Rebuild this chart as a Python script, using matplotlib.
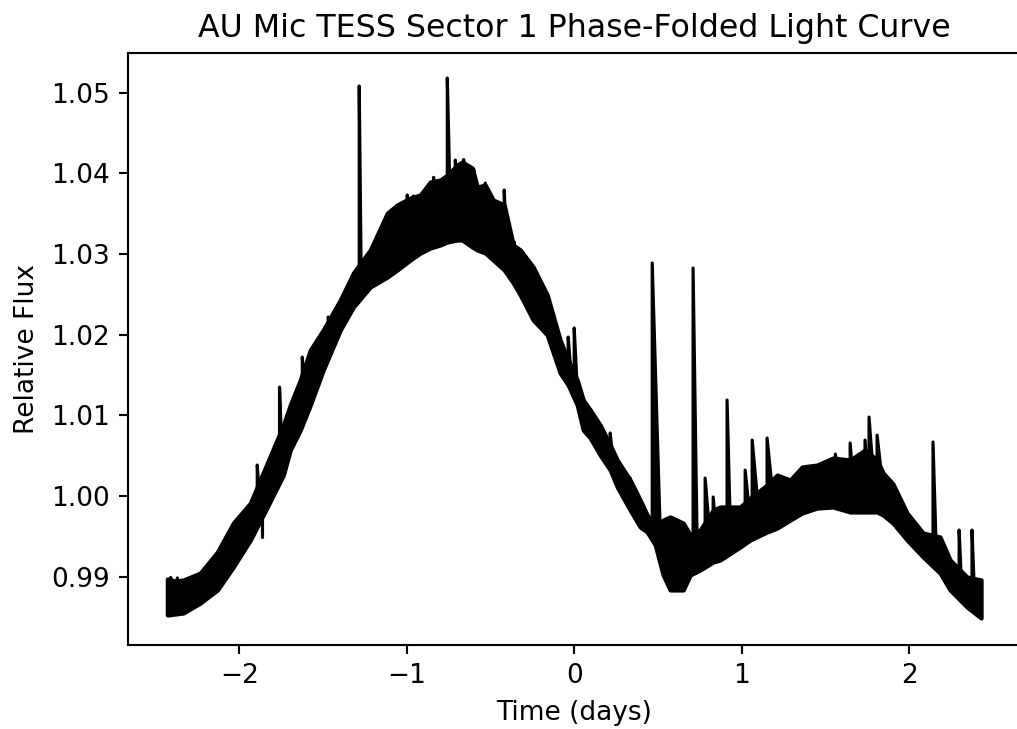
import numpy as np
import matplotlib
matplotlib.use("Agg")
import matplotlib.pyplot as plt

# ---- data (phase-folded light curve band) ----
band_time = [-2.430, -2.382, -2.334, -2.233, -2.131, -2.036, -1.934, -1.833,
             -1.737, -1.696, -1.636, -1.576, -1.499, -1.397, -1.319, -1.218,
             -1.116, -1.057, -0.979, -0.919, -0.860, -0.800, -0.758, -0.699,
             -0.669, -0.609, -0.579, -0.531, -0.484, -0.418, -0.364, -0.322,
             -0.245, -0.161, -0.084, -0.036, 0.018, 0.054, 0.096, 0.155,
             0.215, 0.257, 0.334, 0.394, 0.436, 0.484, 0.531, 0.573, 0.651,
             0.693, 0.752, 0.830, 0.872, 0.991, 1.051, 1.152, 1.212, 1.290,
             1.361, 1.451, 1.546, 1.648, 1.737, 1.809, 1.845, 1.904, 1.988,
             2.084, 2.185, 2.245, 2.346, 2.430]
band_upper = [0.98971, 0.98946, 0.98959, 0.99045, 0.99306, 0.99665, 0.99913, 1.00409,
              1.00880, 1.01128, 1.01438, 1.01810, 1.02058, 1.02430, 1.02765, 1.03050,
              1.03508, 1.03608, 1.03694, 1.03732, 1.03893, 1.03917, 1.03979, 1.04103,
              1.04141, 1.04066, 1.03831, 1.03855, 1.03670, 1.03608, 1.03112, 1.03050,
              1.02839, 1.02492, 1.01934, 1.01686, 1.01438, 1.01190, 1.01066, 1.00880,
              1.00632, 1.00446, 1.00198, 0.99950, 0.99764, 0.99640, 0.99702, 0.99740, 0.99665,
              0.99517, 0.99578, 0.99826, 0.99864, 0.99864, 0.99975, 1.00136, 1.00260, 1.00198,
              1.00360, 1.00384, 1.00471, 1.00446, 1.00570, 1.00446, 1.00285, 1.00150, 0.99789,
              0.99541, 0.99492, 0.99207, 0.98996, 0.98959]
band_lower = [0.98525, 0.98537, 0.98550, 0.98674, 0.98835, 0.99120, 0.99455, 0.99864,
              1.00260, 1.00570, 1.00818, 1.01128, 1.01562, 1.02058, 1.02343, 1.02591,
              1.02715, 1.02802, 1.02926, 1.03012, 1.03074, 1.03112, 1.03149, 1.03174,
              1.03174, 1.03087, 1.03050, 1.03012, 1.02926, 1.02802, 1.02641, 1.02492,
              1.02182, 1.01996, 1.01525, 1.01376, 1.01128, 1.00818, 1.00719, 1.00508,
              1.00322, 1.00112, 0.99826, 0.99616, 0.99554, 0.99393, 0.99021, 0.98835, 0.98835,
              0.99021, 0.99083, 0.99182, 0.99207, 0.99368, 0.99455, 0.99554, 0.99603, 0.99702,
              0.99789, 0.99851, 0.99864, 0.99802, 0.99802, 0.99802, 0.99764, 0.99665, 0.99455,
              0.99244, 0.99045, 0.98835, 0.98624, 0.98488]

# flares: start time, peak flux, decay length (days)
flare_time = [-2.410, -2.370, -1.893, -1.760, -1.624, -1.469, -1.284, -1.150,
              -0.997, -0.961, -0.896, -0.840, -0.758, -0.710, -0.660, -0.600,
              -0.531, -0.490, -0.418, -0.358, -0.036, 0.000, 0.215, 0.334,
              0.466, 0.710, 0.782, 0.830, 0.913, 1.021, 1.063, 1.152, 1.560,
              1.648, 1.737, 1.761, 1.809, 2.143, 2.299, 2.376]
flare_peak = [0.98990, 0.98985, 1.00384, 1.01350, 1.01723, 1.02219, 1.05083, 1.03300,
              1.03732, 1.03719, 1.03670, 1.03950, 1.05182, 1.04165, 1.04170, 1.04050,
              1.03880, 1.03670, 1.03793, 1.03149, 1.01971, 1.02083, 1.00781, 1.00223,
              1.02888, 1.02827, 1.00223, 0.99988, 1.01190, 1.00322, 1.00694, 1.00719, 1.00520,
              1.00657, 1.00694, 1.00979, 1.00756, 1.00669, 0.99578, 0.99578]
flare_decay = [0.008, 0.008, 0.015, 0.015, 0.015, 0.015, 0.012, 0.015,
               0.010, 0.010, 0.010, 0.012, 0.018, 0.015, 0.012, 0.012,
               0.015, 0.015, 0.015, 0.015, 0.020, 0.020, 0.020, 0.020,
               0.050, 0.025, 0.030, 0.020, 0.020, 0.030, 0.040, 0.040, 0.020,
               0.020, 0.020, 0.030, 0.040, 0.020, 0.015, 0.015]

# downward outlier
dip_time = [-1.863]
dip_low = [0.99492]

# ---- figure ----
DPI = 190
fig = plt.figure(figsize=(1017 / DPI, 729 / DPI), dpi=DPI)
ax = fig.add_axes([128 / 1017, 84 / 729, 892.4 / 1017, 592 / 729])

bt = np.array(band_time)
bu = np.array(band_upper)
bl = np.array(band_lower)
ax.fill_between(bt, bl, bu, facecolor="black", edgecolor="black", linewidth=1.6,
                joinstyle="round", zorder=2)

for t, p, d in zip(flare_time, flare_peak, flare_decay):
    base0 = 0.5 * (np.interp(t, bt, bu) + np.interp(t, bt, bl))
    base1 = 0.5 * (np.interp(t + d, bt, bu) + np.interp(t + d, bt, bl))
    ax.fill([t, t, t + d], [base0, p, base1], facecolor="black",
            edgecolor="black", linewidth=1.2, joinstyle="round", zorder=3)

for t, lo in zip(dip_time, dip_low):
    base0 = 0.5 * (np.interp(t, bt, bu) + np.interp(t, bt, bl))
    ax.plot([t, t], [base0, lo], color="black", linewidth=1.2,
            solid_capstyle="round", zorder=3)

ax.set_xlim(-2.665, 2.665)
ax.set_ylim(0.98153, 1.05492)
ax.set_xticks([-2, -1, 0, 1, 2])
ax.set_yticks([0.99, 1.00, 1.01, 1.02, 1.03, 1.04, 1.05])
ax.set_xlabel("Time (days)")
ax.set_ylabel("Relative Flux")
ax.set_title("AU Mic TESS Sector 1 Phase-Folded Light Curve")

fig.savefig("out.png", dpi=DPI)
